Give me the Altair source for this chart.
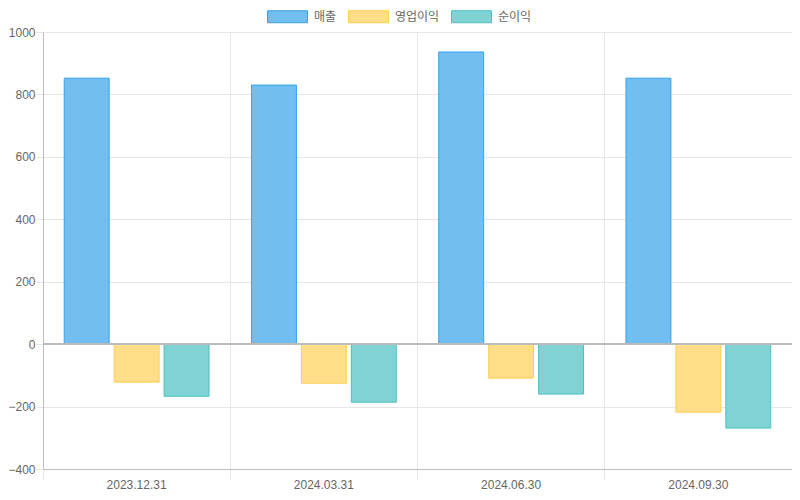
import altair as alt
import pandas as pd

periods = ["2023.12.31", "2024.03.31", "2024.06.30", "2024.09.30"]
series = ["매출", "영업이익", "순이익"]
sales = [852, 830, 936, 852]
op_profit = [-122, -125, -109, -218]
net_profit = [-167, -186, -160, -269]

fills = ["#72bef1", "#ffdd89", "#81d3d3"]
strokes = ["#36a2eb", "#ffce56", "#4bc0c0"]

rows = []
for i, p in enumerate(periods):
    for s, vals in zip(series, [sales, op_profit, net_profit]):
        rows.append({"period": p, "series": s, "value": vals[i]})
df = pd.DataFrame(rows)

FONT = "Liberation Sans, Noto Sans CJK KR, sans-serif"
W, H = 749, 437

bars = alt.Chart(df).mark_bar(strokeWidth=1).encode(
    x=alt.X("period:N", sort=periods, title=None,
            scale=alt.Scale(paddingInner=0, paddingOuter=0),
            axis=alt.Axis(bandPosition=0, labelAngle=0,
                          grid=True, gridColor="#e6e6e6", tickColor="#e6e6e6",
                          tickSize=10, domainColor="#bdbdbd", labelPadding=0,
                          labelColor="#666666", labelFontSize=12, labelFont=FONT)),
    xOffset=alt.XOffset("series:N", sort=series,
                        scale=alt.Scale(paddingInner=0.1, paddingOuter=0.425)),
    y=alt.Y("value:Q", title=None,
            scale=alt.Scale(domain=[-400, 1000], nice=False, zero=False),
            axis=alt.Axis(values=list(range(-400, 1001, 200)), format="d", grid=True,
                          gridColor="#e6e6e6", tickColor="#e6e6e6", tickSize=7,
                          domainColor="#bdbdbd", labelPadding=1,
                          labelColor="#666666", labelFontSize=12, labelFont=FONT)),
    fill=alt.Fill("series:N", sort=series,
                  scale=alt.Scale(domain=series, range=fills),
                  legend=alt.Legend(title=None, orient="none", direction="horizontal",
                                    legendX=224, legendY=-36,
                                    symbolType="M-1,-0.3L1,-0.3L1,0.3L-1,0.3Z",
                                    symbolSize=1600, symbolStrokeWidth=1,
                                    labelOffset=6, columnPadding=9,
                                    labelColor="#666666", labelFontSize=12,
                                    labelFont=FONT)),
    stroke=alt.Stroke("series:N", sort=series,
                      scale=alt.Scale(domain=series, range=strokes)),
)

zero = alt.Chart(df).mark_rule(color="#bdbdbd", strokeWidth=1).encode(
    y=alt.datum(0)
)

chart = alt.layer(bars, zero).properties(
    width=W, height=H,
    autosize=alt.AutoSizeParams(type="none"),
    padding={"left": 35, "top": 24, "right": 0, "bottom": 23},
).configure_view(stroke="#e6e6e6").configure(background="white")

chart.save("out.html", embed_options={"renderer": "svg", "actions": False})
